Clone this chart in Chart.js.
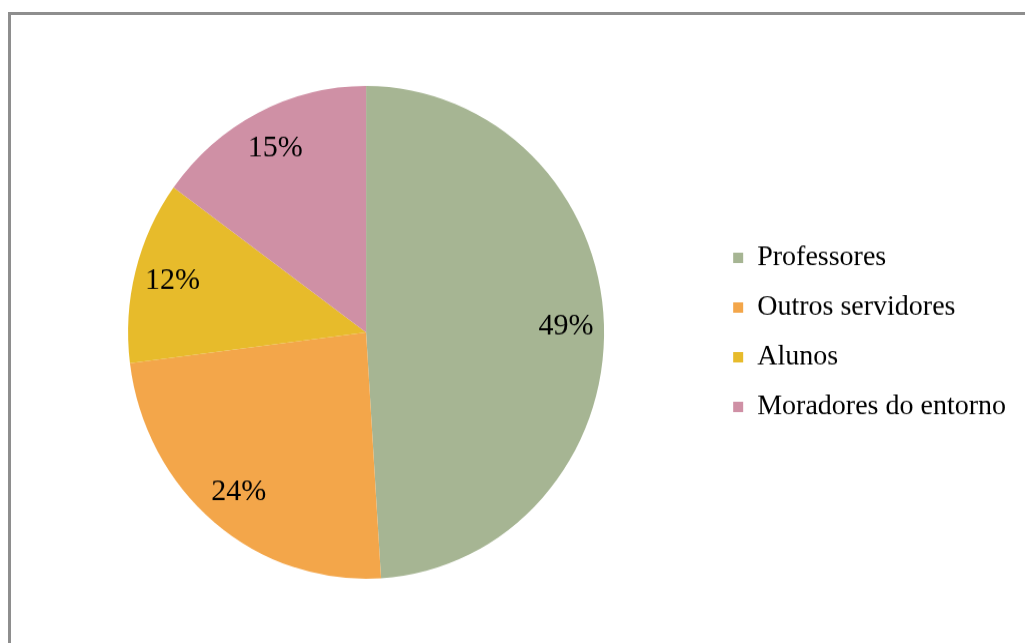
<!DOCTYPE html>
<html lang="pt">
<head>
  <meta charset="UTF-8" />
  <script src="https://cdn.jsdelivr.net/npm/chart.js"></script>
  <style>
    body { margin: 0; background: #fff; }
    #frame {
      position: absolute; left: 8px; top: 12px;
      width: 1100px; height: 700px;
      border-left: 3px solid #8e8e8e; border-top: 3px solid #8e8e8e;
    }
    #pieChart { position: absolute; left: 0; top: 0; }
  </style>
</head>
<body>
  <div id="frame"></div>
  <!-- the original picture is a little taller than wide, so the canvas is stretched -->
  <canvas id="pieChart" width="1025" height="621" style="width:1025px;height:643px"></canvas>

  <script>
    const categories = ['Professores', 'Outros servidores', 'Alunos', 'Moradores do entorno'];
    const shares = [49, 24, 12, 15];
    const sliceColors = ['#a6b593', '#f3a64a', '#e7bb2b', '#cf90a5'];

    // draws the "49%" style labels inside each slice
    const sliceLabels = {
      id: 'sliceLabels',
      afterDatasetsDraw(chart) {
        const ctx = chart.ctx;
        const meta = chart.getDatasetMeta(0);
        ctx.save();
        ctx.font = '30px "Liberation Serif", "Times New Roman", serif';
        ctx.fillStyle = '#000';
        ctx.textAlign = 'center';
        ctx.textBaseline = 'middle';
        meta.data.forEach((arc, i) => {
          const p = arc.getProps(['x', 'y', 'startAngle', 'endAngle', 'outerRadius']);
          const mid = (p.startAngle + p.endAngle) / 2;
          const r = p.outerRadius * 0.84;
          ctx.fillText(shares[i] + '%', p.x + Math.cos(mid) * r, p.y + Math.sin(mid) * r);
        });
        ctx.restore();
      }
    };

    new Chart(document.getElementById('pieChart'), {
      type: 'pie',
      data: {
        labels: categories,
        datasets: [{
          data: shares,
          backgroundColor: sliceColors,
          borderWidth: 0,
        }],
      },
      options: {
        responsive: false,
        animation: false,
        layout: { padding: { left: 19, right: 9, top: 83, bottom: 62 } },
        plugins: {
          legend: {
            position: 'right',
            labels: {
              boxWidth: 10,
              boxHeight: 10,
              padding: 20,
              color: '#000',
              font: { family: '"Liberation Serif", "Times New Roman", serif', size: 28 },
            },
          },
          tooltip: { enabled: false },
        },
      },
      plugins: [sliceLabels],
    });
  </script>
</body>
</html>
